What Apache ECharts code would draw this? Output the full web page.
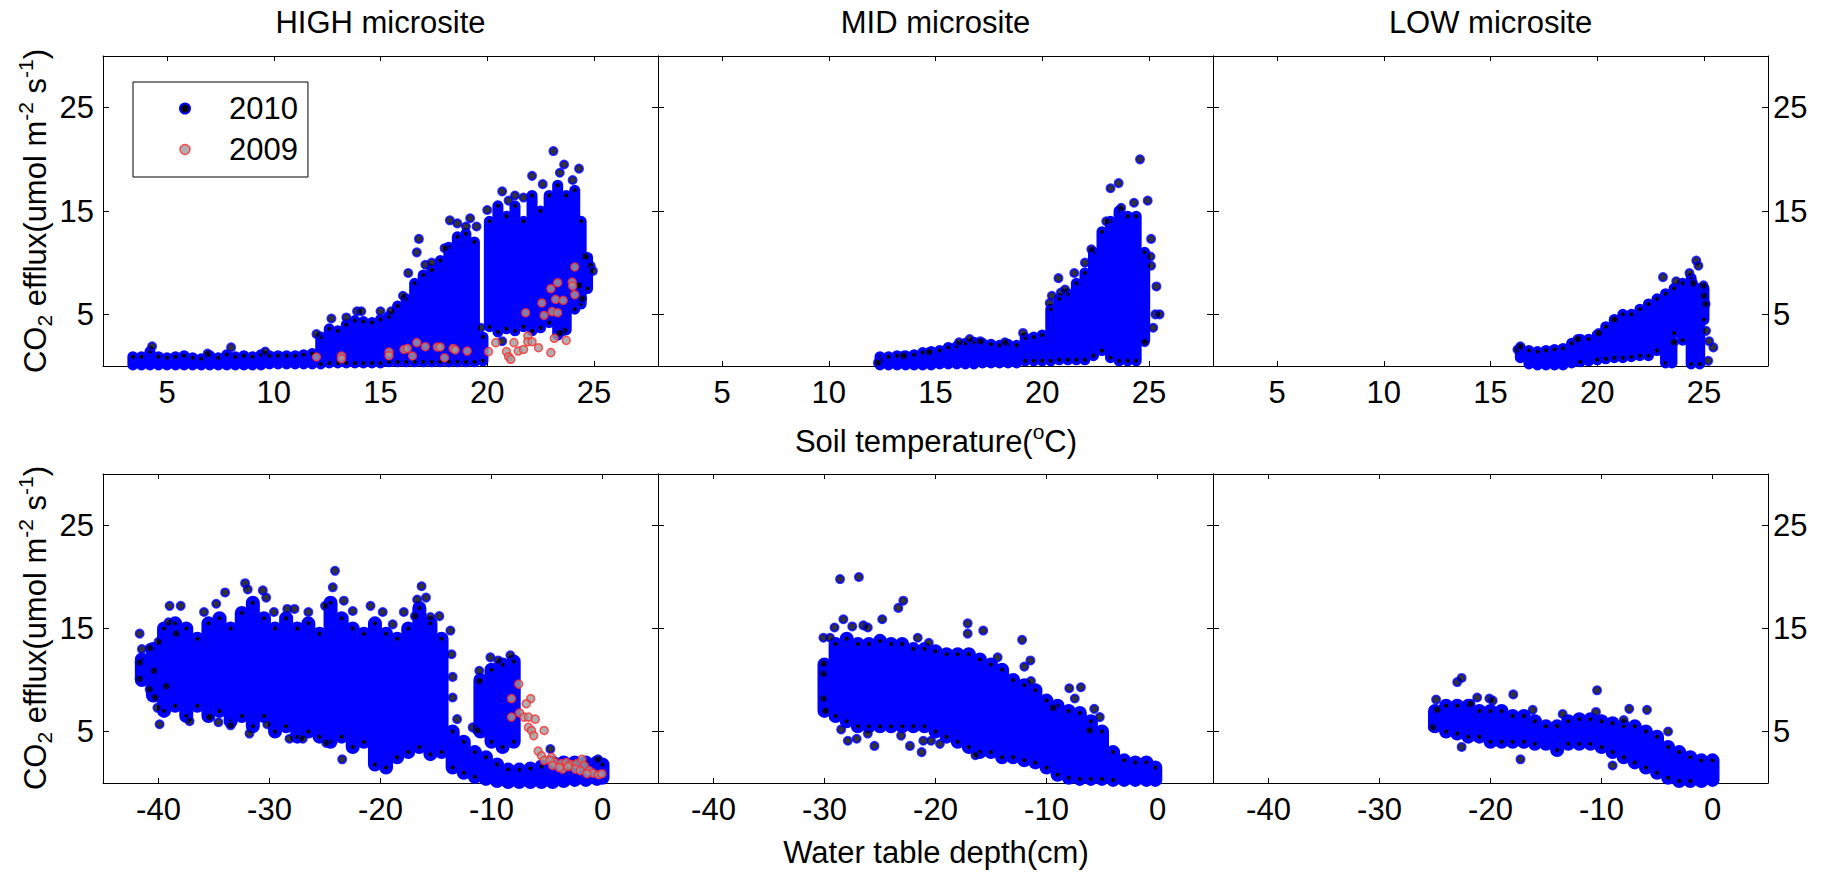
<!DOCTYPE html>
<html><head><meta charset="utf-8">
<script src="https://cdn.jsdelivr.net/npm/echarts@6/dist/echarts.min.js"></script>
<style>html,body{margin:0;padding:0;background:#fff}#c{width:1822px;height:874px}</style>
</head><body><div id="c"></div>
<script>
// ---------- categories / ticks ----------
const SITES = ['HIGH microsite', 'MID microsite', 'LOW microsite'];
const YEARS = ['2010', '2009'];
const TEMP_TICKS = [5, 10, 15, 20, 25];
const WTD_TICKS = [-40, -30, -20, -10, 0];
const FLUX_TICKS = [5, 15, 25];
const TEMP_RANGE = [2, 28];
const WTD_RANGE = [-45, 5];
const FLUX_RANGE = [0, 30];

// ---------- data ----------
// dense 2010 point clouds: [x, lowest y, highest y] of the overlapping markers at that x
const HIGH_TEMP_2010_CLOUD = [[3.4,0.1,0.9],[3.8,0.1,0.9],[4.2,0.1,1.4],[4.6,0.1,0.9],[5.0,0.1,0.8],[5.4,0.1,0.9],[5.8,0.1,1.0],[6.2,0.1,0.8],[6.6,0.1,0.7],[7.0,0.1,1.0],[7.4,0.1,0.8],[7.8,0.1,1.1],[8.2,0.1,0.9],[8.6,0.1,1.0],[9.0,0.1,0.9],[9.4,0.1,1.1],[9.8,0.2,1.0],[10.2,0.2,1.0],[10.6,0.2,1.0],[11.0,0.2,1.0],[11.4,0.2,1.1],[11.8,0.2,1.2],[12.2,0.2,2.8],[12.6,0.3,3.6],[13.0,0.3,3.4],[13.4,0.3,4.0],[13.8,0.3,4.4],[14.2,0.3,4.3],[14.6,0.3,4.2],[15.0,0.3,4.5],[15.4,0.4,4.8],[15.8,0.4,5.8],[16.2,0.4,6.5],[16.6,0.4,8.0],[17.0,0.4,8.8],[17.4,0.4,9.3],[17.8,0.4,10.2],[18.2,0.4,11.5],[18.6,0.4,12.5],[19.0,0.4,12.8],[19.4,0.4,12.0],[19.8,0.5,2.8],[20.1,3.8,14.0],[20.5,3.3,15.5],[20.9,3.6,14.5],[21.3,3.4,15.5],[21.7,3.8,14.0],[22.1,3.4,16.5],[22.5,3.7,15.0],[22.9,4.2,16.5],[23.3,3.0,17.5],[23.7,3.5,16.5],[24.1,5.5,17.0],[24.4,6.0,14.0],[24.7,7.5,10.5]];
const HIGH_TEMP_2010_PTS = [[23.1,20.8],[23.6,19.5],[24.3,19.1],[23.4,18.7],[22.1,18.4],[20.7,16.9],[21.3,16.5],[21.7,16.3],[20.0,15.1],[19.2,14.3],[18.25,14.1],[19.0,13.5],[19.5,13.5],[18.0,11.4],[16.8,12.3],[16.7,11.0],[16.3,9.0],[17.1,9.8],[17.4,10.0],[24.6,10.6],[24.85,9.7],[24.95,9.2],[24.45,6.5],[24.3,7.8],[16.05,6.8],[15.5,5.3],[15.0,5.3],[13.9,5.3],[14.1,5.3],[13.4,4.7],[12.7,4.6],[12.0,3.1],[23.6,3.4],[23.4,3.2],[20.7,2.4],[19.7,3.7],[4.3,1.9],[8.0,1.8],[9.6,1.4],[6.9,1.2],[22.6,17.6],[24.0,18.0],[21.0,16.0],[18.6,13.8]];
const HIGH_TEMP_2009 = [[12.0,0.87],[13.17,0.97],[13.17,0.7],[15.4,1.35],[15.4,1.0],[16.1,1.6],[16.26,1.7],[16.5,0.97],[16.7,2.26],[17.1,1.87],[17.66,1.84],[17.8,1.84],[18.0,0.8],[18.4,1.7],[18.5,1.55],[19.06,1.45],[20.06,1.39],[20.4,2.26],[20.9,1.39],[21.0,0.9],[21.25,2.26],[21.1,0.65],[21.45,1.45],[21.7,1.6],[21.8,5.16],[21.9,2.9],[21.9,2.35],[22.1,2.35],[22.4,1.77],[22.56,6.1],[22.66,4.9],[22.98,7.48],[23.04,5.26],[22.98,1.29],[23.14,2.68],[23.2,6.45],[23.3,8.06],[23.3,5.16],[23.56,6.35],[23.98,8.13],[24.0,7.74],[23.7,2.48],[24.1,6.9],[24.1,9.58]];

const MID_TEMP_2010_CLOUD = [[12.4,0.1,0.9],[12.8,0.1,0.9],[13.2,0.1,1.0],[13.6,0.1,1.0],[14.0,0.1,1.1],[14.4,0.1,1.3],[14.8,0.1,1.4],[15.2,0.2,1.5],[15.6,0.2,1.8],[16.0,0.2,1.9],[16.4,0.2,2.2],[16.8,0.2,2.3],[17.2,0.3,2.2],[17.6,0.3,2.1],[18.0,0.3,2.0],[18.4,0.3,2.1],[18.8,0.3,2.0],[19.2,0.5,2.7],[19.6,0.5,2.8],[20.0,0.5,3.0],[20.4,0.5,5.5],[20.8,0.6,6.5],[21.2,0.6,7.0],[21.6,0.6,8.0],[22.0,0.6,9.0],[22.4,1.0,11.0],[22.8,1.5,13.0],[23.2,0.8,14.0],[23.6,0.5,15.0],[24.0,0.5,14.5],[24.4,0.5,14.5],[24.8,2.5,11.0]];
const MID_TEMP_2010_PTS = [[24.58,20.0],[23.2,17.2],[23.58,17.7],[24.94,16.0],[23.7,15.3],[24.3,15.8],[23.0,14.0],[25.1,12.3],[25.07,10.6],[25.1,9.7],[25.35,7.7],[25.3,5.0],[25.5,5.0],[25.2,3.7],[24.8,2.3],[22.3,11.3],[22.0,10.0],[21.5,9.0],[20.76,8.5],[20.35,6.1],[20.45,6.8],[20.87,7.1],[21.07,7.4],[19.1,3.2],[18.25,2.3],[16.6,2.6],[17.1,2.4],[16.1,2.3],[14.7,1.35],[13.5,1.0],[12.4,0.5],[12.3,0.3]];

const LOW_TEMP_2010_CLOUD = [[16.4,0.8,1.7],[16.8,0.2,1.5],[17.2,0.1,1.4],[17.6,0.1,1.5],[18.0,0.1,1.6],[18.4,0.1,1.7],[18.8,0.3,2.2],[19.2,0.4,2.6],[19.6,0.5,2.6],[20.0,0.6,3.0],[20.4,0.7,3.8],[20.8,0.8,4.5],[21.2,0.8,5.0],[21.6,0.9,5.0],[22.0,1.0,5.5],[22.4,1.0,6.0],[22.8,1.5,6.5],[23.2,0.3,7.0],[23.5,0.3,2.3],[23.6,3.2,7.5],[24.0,2.5,8.0],[24.4,0.2,8.5],[24.8,0.2,7.5],[25.0,4.5,7.5]];
const LOW_TEMP_2010_PTS = [[24.64,10.2],[24.74,9.7],[24.32,9.0],[23.08,8.6],[23.7,8.2],[24.5,8.0],[24.98,7.8],[25.0,6.8],[25.08,6.0],[25.1,3.4],[25.24,2.4],[25.44,1.8],[25.2,0.5],[23.6,2.3],[16.26,1.6],[16.4,1.9],[20.8,4.5],[19.07,2.6],[20.07,3.2]];

const HIGH_WTD_2010_CLOUD = [[-41.5,10.0,12.0],[-40.5,8.5,13.0],[-39.5,7.0,15.0],[-38.5,7.5,15.5],[-37.5,6.5,15.0],[-36.5,7.5,14.0],[-35.5,6.5,15.5],[-34.5,7.0,16.0],[-33.5,6.0,15.0],[-32.5,6.5,16.5],[-31.5,5.5,17.5],[-30.5,6.5,16.0],[-29.5,5.0,15.0],[-28.5,5.5,16.0],[-27.5,4.5,15.0],[-26.5,5.0,15.5],[-25.5,4.5,14.5],[-24.5,4.0,17.5],[-23.5,4.5,16.0],[-22.5,3.5,15.0],[-21.5,4.0,14.5],[-20.5,1.8,15.5],[-19.5,1.5,14.5],[-18.5,2.5,14.0],[-17.5,3.0,15.0],[-16.5,3.5,17.0],[-15.5,2.8,15.5],[-14.5,3.0,14.0],[-13.5,1.5,5.0],[-12.5,1.0,4.0],[-11.5,0.6,3.0],[-10.5,0.4,2.5],[-9.5,0.2,1.8],[-8.5,0.1,1.3],[-7.5,0.1,1.3],[-6.5,0.1,1.4],[-5.5,0.1,1.6],[-4.5,0.1,2.0],[-3.5,0.2,2.0],[-2.5,0.3,2.0],[-1.5,0.3,2.0],[-0.5,0.4,2.0],[0.0,0.5,1.8],[-11.0,5.0,10.0],[-10.0,4.0,11.0],[-9.0,3.5,11.5],[-8.0,4.0,11.8]];
const HIGH_WTD_2010_PTS = [[-41.7,14.5],[-41.5,13.0],[-41.7,11.7],[-41.7,10.1],[-40.8,13.1],[-40.0,13.7],[-40.4,10.9],[-40.8,9.1],[-40.3,8.3],[-40.1,7.3],[-39.9,5.7],[-39.3,9.4],[-39.0,17.2],[-38.0,17.2],[-39.1,15.6],[-38.4,14.5],[-37.2,6.0],[-35.9,16.6],[-35.4,6.4],[-34.8,17.4],[-34.0,18.5],[-34.6,5.9],[-33.5,5.6],[-32.2,19.4],[-31.96,18.8],[-31.8,4.8],[-30.6,18.7],[-30.3,18.0],[-29.6,16.6],[-30.2,5.7],[-28.4,16.9],[-27.75,16.9],[-26.5,16.6],[-28.2,4.3],[-27.0,4.3],[-25.0,17.2],[-24.1,20.6],[-24.3,19.0],[-23.3,17.7],[-22.5,16.7],[-23.45,2.3],[-24.9,3.9],[-20.9,17.2],[-19.8,16.6],[-18.9,15.4],[-17.9,16.6],[-16.3,19.1],[-16.7,17.8],[-15.9,18.0],[-16.9,16.2],[-15.5,16.1],[-14.7,16.2],[-13.7,14.8],[-13.6,12.5],[-13.5,10.3],[-13.5,8.3],[-13.1,6.2],[-11.1,10.9],[-11.7,5.4],[-10.1,12.2],[-8.3,12.4],[-9.4,11.9],[-11.1,9.9],[-11.3,5.1],[-4.7,3.3],[-0.4,2.3]];
const HIGH_WTD_2009 = [[-7.55,9.6],[-8.2,8.2],[-6.47,8.2],[-6.87,7.7],[-8.2,6.4],[-7.47,6.8],[-7.07,6.4],[-6.67,6.4],[-6.06,6.2],[-6.67,5.4],[-6.4,5.1],[-6.2,4.6],[-5.26,5.1],[-5.8,3.1],[-5.5,2.65],[-5.26,2.2],[-4.6,2.5],[-4.3,2.0],[-3.7,1.9],[-3.25,2.0],[-2.85,1.8],[-2.3,1.9],[-1.85,2.3],[-1.65,1.7],[-1.2,1.2],[-0.85,0.95],[-0.35,0.8],[-0.05,0.9],[-4.75,2.2],[-3.6,1.35],[-2.45,1.35],[-4.5,1.7],[-3.9,1.5],[-2.0,1.2],[-1.4,0.9],[-3.1,1.6]];

const MID_WTD_2010_CLOUD = [[-30.0,7.0,11.5],[-29.0,6.5,13.5],[-28.0,6.0,14.0],[-27.0,5.5,13.5],[-26.0,5.5,13.5],[-25.0,5.5,13.8],[-24.0,5.5,13.5],[-23.0,5.5,13.5],[-22.0,5.5,13.0],[-21.0,5.5,13.0],[-20.0,5.0,12.8],[-19.0,4.5,12.5],[-18.0,4.0,12.5],[-17.0,3.5,12.5],[-16.0,3.0,12.0],[-15.0,3.0,11.5],[-14.0,2.5,11.0],[-13.0,2.5,10.0],[-12.0,2.2,9.5],[-11.0,2.0,9.0],[-10.0,1.5,8.0],[-9.0,0.8,7.5],[-8.0,0.5,7.0],[-7.0,0.4,6.8],[-6.0,0.4,6.0],[-5.0,0.4,5.0],[-4.0,0.3,3.0],[-3.0,0.3,2.2],[-2.0,0.3,2.0],[-1.0,0.3,2.0],[-0.2,0.3,1.5]];
const MID_WTD_2010_PTS = [[-28.6,19.8],[-26.9,20.0],[-23.35,17.0],[-22.9,17.7],[-30.1,14.1],[-29.5,14.1],[-29.1,15.1],[-28.3,15.9],[-27.5,15.2],[-26.5,15.3],[-26.1,15.1],[-24.8,15.9],[-21.6,14.1],[-20.6,13.6],[-17.1,15.5],[-17.1,14.5],[-15.7,14.8],[-12.2,13.9],[-11.45,11.9],[-12.0,11.3],[-14.4,12.2],[-30.1,11.6],[-30.1,10.6],[-30.1,8.2],[-29.9,7.0],[-28.5,5.2],[-27.9,4.1],[-27.1,4.3],[-25.5,3.6],[-26.1,4.8],[-23.1,4.6],[-22.3,3.6],[-21.25,3.0],[-21.1,4.1],[-20.4,4.1],[-19.6,3.8],[-16.4,2.7],[-7.95,9.2],[-6.9,9.3],[-7.45,8.2],[-5.7,7.2],[-5.2,6.4],[-6.1,5.1],[-9.4,7.3],[-11.4,9.9]];

const LOW_WTD_2010_CLOUD = [[-25.0,5.5,7.0],[-24.0,5.0,7.5],[-23.0,4.8,7.5],[-22.0,4.5,7.5],[-21.0,4.5,7.0],[-20.0,4.0,7.0],[-19.0,4.0,7.0],[-18.0,4.0,6.5],[-17.0,4.0,6.5],[-16.0,3.8,6.0],[-15.0,3.8,5.5],[-14.0,3.2,5.5],[-13.0,3.8,6.0],[-12.0,3.8,6.2],[-11.0,3.8,6.2],[-10.0,3.5,6.0],[-9.0,3.0,5.8],[-8.0,2.5,5.5],[-7.0,2.0,5.5],[-6.0,1.5,5.0],[-5.0,1.0,4.5],[-4.0,0.5,3.5],[-3.0,0.2,3.0],[-2.0,0.2,2.5],[-1.0,0.2,2.2],[0.0,0.3,2.2]];
const LOW_WTD_2010_PTS = [[-23.0,9.8],[-22.6,10.2],[-17.95,8.6],[-21.2,8.3],[-20.1,8.2],[-19.8,8.0],[-21.8,7.7],[-24.9,8.1],[-24.8,7.1],[-25.2,5.4],[-22.6,3.5],[-17.3,2.3],[-10.4,9.0],[-13.5,6.7],[-10.5,6.9],[-7.5,7.2],[-5.9,7.1],[-8.0,6.1],[-4.0,5.0],[-9.0,1.7],[-16.2,7.1]];

// panel order: row 0 = soil temperature, row 1 = water table depth; columns HIGH, MID, LOW
const PANELS = [
  {cloud: HIGH_TEMP_2010_CLOUD, pts: HIGH_TEMP_2010_PTS, y2009: HIGH_TEMP_2009},
  {cloud: MID_TEMP_2010_CLOUD, pts: MID_TEMP_2010_PTS, y2009: []},
  {cloud: LOW_TEMP_2010_CLOUD, pts: LOW_TEMP_2010_PTS, y2009: []},
  {cloud: HIGH_WTD_2010_CLOUD, pts: HIGH_WTD_2010_PTS, y2009: HIGH_WTD_2009},
  {cloud: MID_WTD_2010_CLOUD, pts: MID_WTD_2010_PTS, y2009: []},
  {cloud: LOW_WTD_2010_CLOUD, pts: LOW_WTD_2010_PTS, y2009: []}
];

// ---------- layout & styles ----------
const FONT = 'Liberation Sans, Arial, Helvetica, sans-serif';
const FS = 31;
const GRID_LEFT = [103, 658, 1213];
const GRID_W = 555;
const ROW_TOP = [56, 474];
const ROW_H = [310, 309];
const STRIP_W = [11, 14];
const C2010 = {color: '#000000', borderColor: '#0000ff', borderWidth: 2};
const C2009 = {color: '#9c9c9c', borderColor: '#ff2a2a', borderWidth: 1.5};

const grids = [], xAxes = [], yAxes = [], series = [];
const axLine = {show: true, onZero: false, lineStyle: {color: '#000', width: 1}};
const lbl = (show, vals, margin) => ({show, customValues: vals, margin, color: '#000', fontSize: FS, fontFamily: FONT});
const tck = (vals, len) => ({show: true, inside: true, length: len, customValues: vals, lineStyle: {color: '#000', width: 1}});

for (let r = 0; r < 2; r++) {
  for (let c = 0; c < 3; c++) {
    const gi = r * 3 + c;
    grids.push({left: GRID_LEFT[c], top: ROW_TOP[r], width: GRID_W, height: ROW_H[r]});
    const xr = r === 0 ? TEMP_RANGE : WTD_RANGE;
    const xt = r === 0 ? TEMP_TICKS : WTD_TICKS;
    xAxes.push({gridIndex: gi, type: 'value', position: 'bottom', min: xr[0], max: xr[1],
      axisLine: axLine, axisTick: tck(xt, 5), axisLabel: lbl(true, xt, 11), splitLine: {show: false}});
    xAxes.push({gridIndex: gi, type: 'value', position: 'top', min: xr[0], max: xr[1],
      axisLine: axLine, axisTick: tck(xt, 5), axisLabel: {show: false}, splitLine: {show: false}});
    yAxes.push({gridIndex: gi, type: 'value', position: 'left', min: FLUX_RANGE[0], max: FLUX_RANGE[1],
      axisLine: axLine, axisTick: tck(FLUX_TICKS, 6), axisLabel: lbl(c === 0, FLUX_TICKS, 9), splitLine: {show: false}});
    yAxes.push({gridIndex: gi, type: 'value', position: 'right', min: FLUX_RANGE[0], max: FLUX_RANGE[1],
      axisLine: axLine, axisTick: tck(FLUX_TICKS, 6), axisLabel: lbl(c === 2, FLUX_TICKS, 5), splitLine: {show: false}});

    const P = PANELS[gi];
    const w = STRIP_W[r];
    series.push({
      type: 'custom', name: YEARS[0], xAxisIndex: 2 * gi, yAxisIndex: 2 * gi, data: P.cloud,
      clip: false, silent: true, z: 2, encode: {x: 0, y: [1, 2]},
      renderItem: function (params, api) {
        const p0 = api.coord([api.value(0), api.value(1)]);
        const p1 = api.coord([api.value(0), api.value(2)]);
        const h = p0[1] - p1[1];
        const kids = [{type: 'rect', shape: {x: p0[0] - w / 2, y: p1[1] - w / 2, width: w, height: h + w, r: w / 2},
          style: {fill: '#0000ff'}}];
        // edge markers (black face, blue ring) like the outermost points of the cloud
        kids.push({type: 'circle', shape: {cx: p1[0], cy: p1[1], r: 3}, style: {fill: '#000', stroke: '#0000ff', lineWidth: 2}});
        if (h > 22) kids.push({type: 'circle', shape: {cx: p0[0], cy: p0[1], r: 3}, style: {fill: '#000', stroke: '#0000ff', lineWidth: 2}});
        return {type: 'group', children: kids};
      }
    });
    series.push({type: 'scatter', name: YEARS[0], xAxisIndex: 2 * gi, yAxisIndex: 2 * gi, data: P.pts,
      symbol: 'circle', symbolSize: 8, itemStyle: C2010, clip: false, silent: true, z: 3});
    if (P.y2009.length) {
      series.push({type: 'scatter', name: YEARS[1], xAxisIndex: 2 * gi, yAxisIndex: 2 * gi, data: P.y2009,
        symbol: 'circle', symbolSize: 8, itemStyle: C2009, clip: false, silent: true, z: 4});
    }
  }
}

const richBase = {
  n: {fontSize: FS, fontFamily: FONT, fill: '#000', color: '#000', lineHeight: 40, verticalAlign: 'middle'},
  sup: {fontSize: 21, fontFamily: FONT, fill: '#000', color: '#000', lineHeight: 21, verticalAlign: 'top'},
  sub: {fontSize: 21, fontFamily: FONT, fill: '#000', color: '#000', lineHeight: 21, verticalAlign: 'bottom'}
};
const Y_TITLE = '{n|CO}{sub|2}{n| efflux(umol m}{sup|-2}{n| s}{sup|-1}{n|)}';
const X_TITLE_TEMP = '{n|Soil temperature(}{sup|o}{n|C)}';
const X_TITLE_WTD = 'Water table depth(cm)';

const graphic = [];
SITES.forEach((s, i) => graphic.push({type: 'text', x: GRID_LEFT[i] + GRID_W / 2, y: 22,
  style: {text: s, fontSize: FS, fontFamily: FONT, fill: '#000', align: 'center', verticalAlign: 'middle'}}));
graphic.push({type: 'text', x: 936, y: 441, style: {text: X_TITLE_TEMP, rich: richBase, align: 'center', verticalAlign: 'middle'}});
graphic.push({type: 'text', x: 936, y: 852, style: {text: X_TITLE_WTD, fontSize: FS, fontFamily: FONT, fill: '#000', lineHeight: 31, align: 'center', verticalAlign: 'middle'}});
[211, 628].forEach(yc => graphic.push({type: 'text', x: 35, y: yc, rotation: Math.PI / 2,
  style: {text: Y_TITLE, rich: richBase, align: 'center', verticalAlign: 'middle'}}));

const chart = echarts.init(document.getElementById('c'), null, {renderer: 'svg'});
chart.setOption({
  animation: false,
  backgroundColor: '#ffffff',
  grid: grids, xAxis: xAxes, yAxis: yAxes, series: series, graphic: graphic,
  legend: {
    show: true, orient: 'vertical', left: 133, top: 82, padding: [11, 10, 12, 46], itemGap: 10,
    itemWidth: 10, itemHeight: 10, borderColor: '#000', borderWidth: 1, selectedMode: false,
    textStyle: {fontSize: FS, fontFamily: FONT, color: '#000', lineHeight: 30, padding: [0, 0, 0, 34]},
    data: [
      {name: YEARS[0], icon: 'circle', itemStyle: C2010},
      {name: YEARS[1], icon: 'circle', itemStyle: C2009}
    ]
  }
});
</script></body></html>
